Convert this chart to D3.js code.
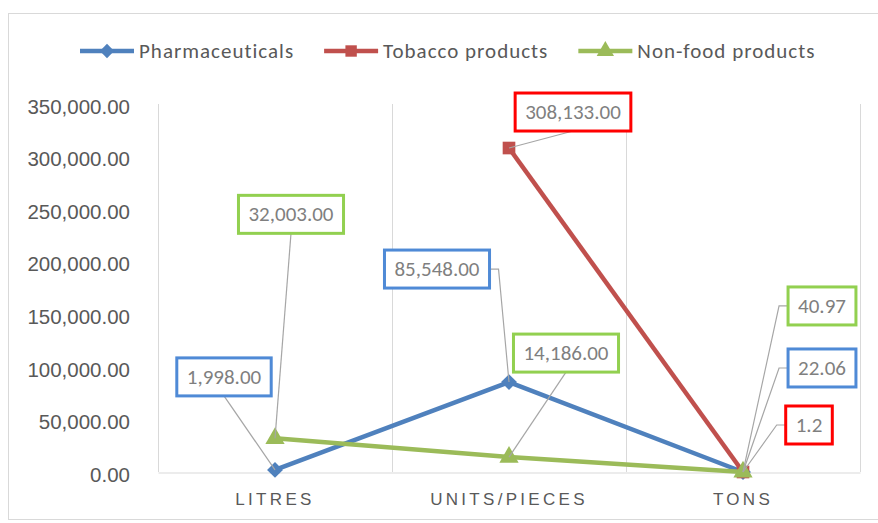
<!DOCTYPE html>
<html lang="en">
<head>
    <meta charset="UTF-8">
    <title>Line Chart</title>
    <style>
        body { margin: 0; background: #fff; }
        svg { font-family: Carlito, "Liberation Sans Narrow", "Open Sans", sans-serif; }
    </style>
</head>
<body>
    <script src="https://d3js.org/d3.v7.min.js"></script>
    <script>
        const categories = ['LITRES', 'UNITS/PIECES', 'TONS'];
        const seriesNames = ['Pharmaceuticals', 'Tobacco products', 'Non-food products'];
        const pharmaceuticals = [1998, 85548, 22.06];
        const tobacco = [null, 308133, 1.2];
        const nonFood = [32003, 14186, 40.97];
        const yTicks = [0, 50000, 100000, 150000, 200000, 250000, 300000, 350000];

        const lineColors = ['#4f81bd', '#c0504d', '#9bbb59'];
        const boxColors = ['#4f8ad6', '#ff0000', '#92d050'];
        const markerTypes = [d3.symbolDiamond2, d3.symbolSquare, d3.symbolTriangle];

        // label box offset from its point (center), and how the leader attaches
        const labelPlace = [
            [{ dx: -51, dy: -93, from: 'bottom' }, { dx: -72, dy: -113, from: 'side' }, { dx: 79, dy: -104, from: 'side' }],
            [null, { dx: 64, dy: -36, from: 'bottom' }, { dx: 66, dy: -47, from: 'side' }],
            [{ dx: 16, dy: -224, from: 'bottom' }, { dx: 57, dy: -104, from: 'bottom' }, { dx: 79, dy: -166, from: 'side' }]
        ];

        const width = 878, height = 523;
        const margin = { top: 104, right: 18, bottom: 51, left: 158 };

        const svg = d3.select('body').append('svg')
            .attr('width', width)
            .attr('height', height);

        // chart border
        svg.append('rect')
            .attr('x', 8.5).attr('y', 13.5)
            .attr('width', 880).attr('height', 506)
            .attr('fill', 'none')
            .attr('stroke', '#d9d9d9');

        const xScale = d3.scaleBand()
            .domain(categories)
            .range([margin.left, width - margin.right]);

        const yScale = d3.scaleLinear()
            .domain([0, 350000])
            .range([height - margin.bottom, margin.top]);

        // vertical gridlines at band edges
        const edges = categories.map(c => xScale(c)).concat([xScale.range()[1]]);
        svg.append('g').selectAll('line')
            .data(edges)
            .enter()
            .append('line')
            .attr('x1', d => d + 0.5).attr('x2', d => d + 0.5)
            .attr('y1', yScale(350000)).attr('y2', yScale(0))
            .attr('stroke', '#d9d9d9')
            .attr('stroke-width', 1);

        // x axis
        const xAxis = svg.append('g')
            .attr('transform', `translate(0, ${yScale(0) + 0.5})`)
            .call(d3.axisBottom(xScale).tickSize(0).tickPadding(20));
        xAxis.select('.domain').attr('stroke', '#d9d9d9');
        xAxis.selectAll('text')
            .attr('fill', '#595959')
            .style('font-size', '17px')
            .style('letter-spacing', '3.3px');

        // y axis
        const yAxis = svg.append('g')
            .attr('transform', `translate(${margin.left - 28}, 0)`)
            .call(d3.axisLeft(yScale).tickValues(yTicks).tickFormat(d3.format(',.2f')).tickSize(0).tickPadding(0));
        yAxis.select('.domain').remove();
        yAxis.selectAll('text')
            .attr('fill', '#595959')
            .attr('dy', '0.45em')
            .style('font-size', '20.5px');

        const allSeries = [pharmaceuticals, tobacco, nonFood];

        const line = d3.line()
            .defined(d => d.v !== null)
            .x(d => xScale(d.c) + xScale.bandwidth() / 2)
            .y(d => yScale(d.v));

        const seriesData = allSeries.map((vals, s) => vals.map((v, i) => ({ c: categories[i], v: v, s: s, i: i })));

        const labelLayer = svg.append('g');
        const lineLayer = svg.append('g');

        seriesData.forEach((pts, s) => {
            lineLayer.append('path')
                .datum(pts)
                .attr('d', line)
                .attr('fill', 'none')
                .attr('stroke', lineColors[s])
                .attr('stroke-width', 4.5)
                .attr('stroke-linejoin', 'round');

            lineLayer.selectAll(null)
                .data(pts.filter(d => d.v !== null))
                .enter()
                .append('path')
                .attr('d', d3.symbol().type(markerTypes[s]).size(160))
                .attr('transform', d => `translate(${xScale(d.c) + xScale.bandwidth() / 2}, ${yScale(d.v)})`)
                .attr('fill', lineColors[s]);
        });

        const fmt = d3.format(',.2f');
        const labelText = (s, v) => (s === 1 && v < 10) ? String(v) : (v < 100 ? d3.format('.2f')(v) : fmt(v));

        // data labels with leader lines
        seriesData.forEach((pts, s) => {
            pts.forEach(d => {
                const place = labelPlace[s][d.i];
                if (d.v === null || !place) return;
                const px = xScale(d.c) + xScale.bandwidth() / 2;
                const py = yScale(d.v);
                const cx = px + place.dx;
                const cy = py + place.dy;

                const g = labelLayer.append('g');
                const leader = g.append('polyline')
                    .attr('fill', 'none')
                    .attr('stroke', '#a6a6a6')
                    .attr('stroke-width', 1.2);
                const box = g.append('rect')
                    .attr('fill', '#fff')
                    .attr('stroke', boxColors[s])
                    .attr('stroke-width', 3);
                const t = g.append('text')
                    .attr('x', cx)
                    .attr('y', cy)
                    .attr('text-anchor', 'middle')
                    .attr('dominant-baseline', 'central')
                    .attr('fill', '#7f7f7f')
                    .style('font-size', '21px')
                    .text(labelText(s, d.v));
                const w = t.node().getComputedTextLength() + 20;
                const h = 38;
                box.attr('x', cx - w / 2).attr('y', cy - h / 2)
                    .attr('width', w).attr('height', h);

                let pts2;
                if (place.from === 'bottom') {
                    pts2 = [[cx, cy + h / 2], [px, py]];
                } else if (px > cx) {
                    pts2 = [[cx + w / 2, cy], [cx + w / 2 + 9, cy], [px, py]];
                } else {
                    pts2 = [[cx - w / 2, cy], [cx - w / 2 - 9, cy], [px, py]];
                }
                leader.attr('points', pts2.map(p => p.join(',')).join(' '));
            });
        });
        labelLayer.raise();

        // legend
        const legend = svg.append('g').attr('transform', 'translate(0, 51)');
        let lx = 80;
        seriesNames.forEach((name, s) => {
            const item = legend.append('g').attr('transform', `translate(${lx}, 0)`);
            item.append('line')
                .attr('x1', 0).attr('x2', 54)
                .attr('stroke', lineColors[s])
                .attr('stroke-width', 4.5);
            item.append('path')
                .attr('d', d3.symbol().type(markerTypes[s]).size(130))
                .attr('transform', 'translate(27, 0)')
                .attr('fill', lineColors[s]);
            const t = item.append('text')
                .attr('x', 59)
                .attr('dominant-baseline', 'central')
                .attr('fill', '#595959')
                .style('font-size', '21px')
                .style('letter-spacing', '1px')
                .text(name);
            lx += 59 + t.node().getComputedTextLength() + 30;
        });
    </script>
</body>
</html>
